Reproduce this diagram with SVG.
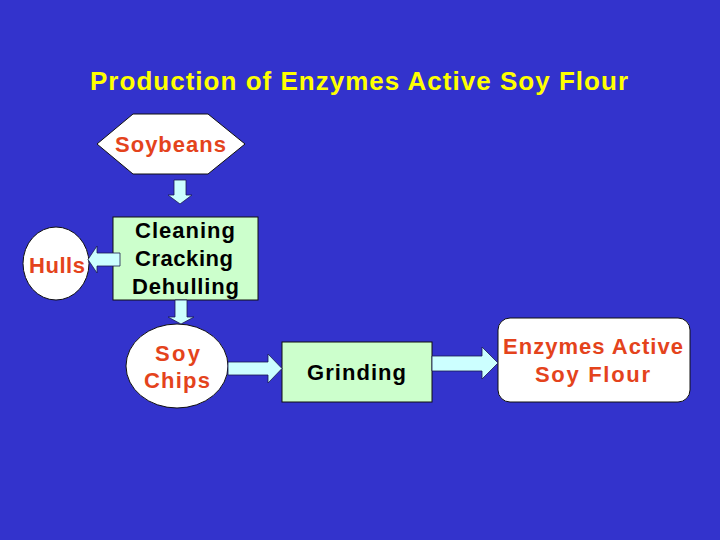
<svg xmlns="http://www.w3.org/2000/svg" width="720" height="540" viewBox="0 0 720 540">
<style>
text{font-family:"Liberation Sans",Arial,sans-serif;font-size:22px;text-anchor:middle;font-weight:bold}
.red{fill:#E4431C}
.blk{fill:#000}
.title{fill:#FFFF00;font-size:26px}
.box{fill:#CCFFCC;stroke:#111;stroke-width:1}
.wht{fill:#FFFFFF;stroke:#111;stroke-width:1}
.arr{fill:#CCFFFF;stroke:#1a1a50;stroke-width:0.8}
</style>
<rect width="720" height="540" fill="#3333CC"/>
<text class="title" x="359" y="90" textLength="538" lengthAdjust="spacing">Production of Enzymes Active Soy Flour</text>
<g id="soybeans">
<polygon class="wht" points="97,144 133,114 208,114 245,144 208,174 133,174"/>
<text class="red" x="170.5" y="152" textLength="111" lengthAdjust="spacing">Soybeans</text>
</g>
<g id="cleaning">
<rect class="box" x="113" y="217" width="145" height="83"/>
<text class="blk" x="185" y="238" textLength="100" lengthAdjust="spacing">Cleaning</text>
<text class="blk" x="184" y="266" textLength="98" lengthAdjust="spacing">Cracking</text>
<text class="blk" x="185.5" y="294" textLength="107" lengthAdjust="spacing">Dehulling</text>
</g>
<g id="hulls">
<ellipse class="wht" cx="56" cy="263.5" rx="33" ry="36.5"/>
<text class="red" x="57" y="273" textLength="56" lengthAdjust="spacing">Hulls</text>
</g>
<g id="soychips">
<ellipse class="wht" cx="177" cy="366" rx="51" ry="42"/>
<text class="red" x="177.5" y="361" textLength="45" lengthAdjust="spacing">Soy</text>
<text class="red" x="177" y="388" textLength="66" lengthAdjust="spacing">Chips</text>
</g>
<g id="grinding">
<rect class="box" x="282" y="342" width="150" height="60"/>
<text class="blk" x="356.5" y="380" textLength="99" lengthAdjust="spacing">Grinding</text>
</g>
<g id="flour">
<rect class="wht" x="498" y="318" width="192" height="84" rx="12"/>
<text class="red" x="593" y="354" textLength="180" lengthAdjust="spacing">Enzymes Active</text>
<text class="red" x="592.5" y="382" textLength="115" lengthAdjust="spacing">Soy Flour</text>
</g>
<g id="connectors">
<polygon class="arr" points="174,180 186,180 186,195 192,195 180,204 168,195 174,195"/>
<polygon class="arr" points="120,253 97,253 97,246 88,259.5 97,273 97,266 120,266"/>
<polygon class="arr" points="175,300 187,300 187,317 194,317 181,324 168,317 175,317"/>
<polygon class="arr" points="228,362 268,362 268,354 282,368.5 268,383 268,375 228,375"/>
<polygon class="arr" points="432,356 482,356 482,347 498,363 482,379 482,371 432,371"/>
</g>
</svg>
